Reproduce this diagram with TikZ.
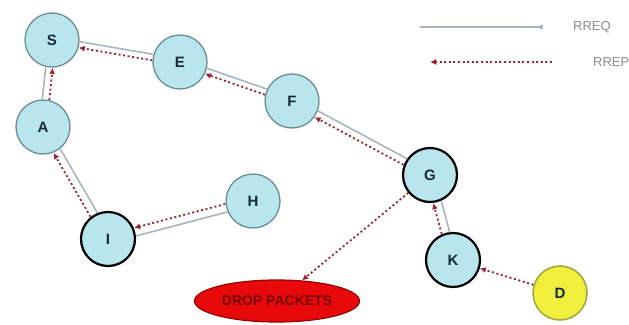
\documentclass[tikz,border=0pt]{standalone}
\usepackage{fontspec}
\setmainfont{Liberation Sans}
\usetikzlibrary{arrows.meta,shapes.geometric}
\definecolor{nodefill}{RGB}{184,230,236}
\definecolor{nodeedge}{RGB}{105,140,145}
\definecolor{lettercol}{RGB}{25,40,60}
\definecolor{reqcol}{RGB}{170,180,192}
\definecolor{repcol}{RGB}{150,35,50}
\definecolor{dfill}{RGB}{240,240,60}
\definecolor{dedge}{RGB}{165,165,70}
\definecolor{dropfill}{RGB}{232,10,10}
\definecolor{dropedge}{RGB}{150,0,0}
\definecolor{droptext}{RGB}{120,0,0}
\definecolor{legtext}{RGB}{140,140,140}
\tikzset{
  nd/.style={circle, minimum size=54pt, inner sep=0pt, fill=nodefill, draw=nodeedge, line width=1.3pt,
    text=lettercol, font=\fontsize{15}{15}\selectfont\bfseries},
  hot/.style={draw=black, line width=2.2pt},
  req/.style={draw=reqcol, line width=1.6pt},
  rep/.style={draw=repcol, line width=1.8pt, dash pattern=on 2pt off 2.6pt, -{Latex[length=6pt,width=6pt]}},
  legtxt/.style={text=legtext, font=\fontsize{13}{13}\selectfont, anchor=west, inner sep=0pt}
}
\begin{document}
\begin{tikzpicture}[x=1pt,y=-1pt]
\useasboundingbox (0,0) rectangle (629,324);
% nodes
\node[nd] (S) at (52,40) {S};
\node[nd] (E) at (180,62) {E};
\node[nd] (F) at (292,101) {F};
\node[nd] (A) at (43,127) {A};
\node[nd] (H) at (253,201) {H};
\node[nd,hot] (I) at (108,239) {I};
\node[nd,hot] (G) at (430,175) {G};
\node[nd,hot] (K) at (453,260) {K};
\node[nd, fill=dfill, draw=dedge, line width=1.6pt] (D) at (560,293) {D};
\node[ellipse, minimum width=165pt, minimum height=42pt, inner sep=0pt, fill=dropfill, draw=dropedge, line width=1.2pt,
  text=droptext, font=\fontsize{14}{14}\selectfont\bfseries] (drop) at (277,301) {DROP PACKETS};
% RREQ (solid)
\draw[req, transform canvas={shift={(0.5,-3)}}] (S) -- (E);
\draw[req, transform canvas={shift={(1,-2.8)}}] (E) -- (F);
\draw[req, transform canvas={shift={(1.7,-3.1)}}] (F) -- (G);
\draw[req, transform canvas={shift={(-3.5,-0.3)}}] (S) -- (A);
\draw[req, transform canvas={shift={(3.4,-2)}}] (A) -- (I);
\draw[req, transform canvas={shift={(1,4)}}] (I) -- (H);
\draw[req, transform canvas={shift={(4,-1)}}] (G) -- (K);
% RREP (dotted)
\draw[rep, transform canvas={shift={(-0.5,3)}}] (E) -- (S);
\draw[rep, transform canvas={shift={(-1,2.8)}}] (F) -- (E);
\draw[rep, transform canvas={shift={(-1.7,3.1)}}] (G) -- (F);
\draw[rep, transform canvas={shift={(3.5,0.3)}}] (A) -- (S);
\draw[rep, transform canvas={shift={(-3.4,2)}}] (I) -- (A);
\draw[rep, transform canvas={shift={(-1,-4)}}] (H) -- (I);
\draw[rep, transform canvas={shift={(-4,1)}}] (K) -- (G);
\draw[rep] (D) -- (K);
\draw[rep] (G) -- (drop);
% legend
\coordinate (q1) at (420,27);
\coordinate (q2) at (543,27);
\draw[req, -{Square[length=3pt,width=4pt]}] (q1) -- (q2);
\node[legtxt] (lq) at (573,27) {RREQ};
\coordinate (p1) at (430,62);
\coordinate (p2) at (552,62);
\draw[rep] (p2) -- (p1);
\node[legtxt] (lp) at (593,62) {RREP};
\end{tikzpicture}
\end{document}
